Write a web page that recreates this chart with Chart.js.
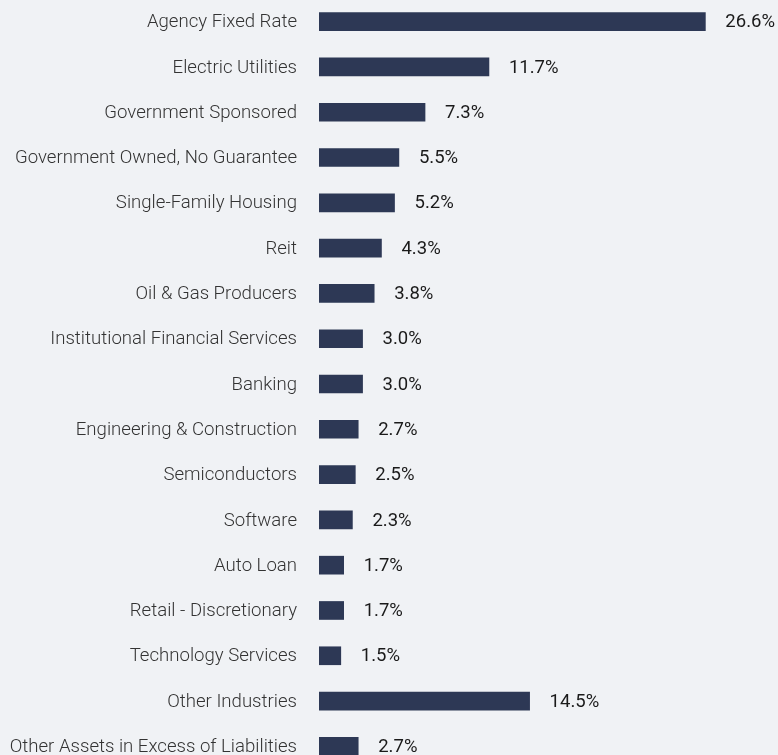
<!DOCTYPE html>
<html>
<head>
<meta charset="utf-8">
<script src="https://cdn.jsdelivr.net/npm/chart.js@4.4.0/dist/chart.umd.min.js"></script>
<style>
  html, body { margin: 0; padding: 0; background: #f0f2f5; overflow: hidden; width: 778px; height: 755px; }
  #wrap { position: relative; width: 778px; height: 770px; margin-top: -1px; }
</style>
</head>
<body>
<div id="wrap"><canvas id="c"></canvas></div>
<script>
const categories = [
  "Agency Fixed Rate",
  "Electric Utilities",
  "Government Sponsored",
  "Government Owned, No Guarantee",
  "Single-Family Housing",
  "Reit",
  "Oil & Gas Producers",
  "Institutional Financial Services",
  "Banking",
  "Engineering & Construction",
  "Semiconductors",
  "Software",
  "Auto Loan",
  "Retail - Discretionary",
  "Technology Services",
  "Other Industries",
  "Other Assets in Excess of Liabilities"
];
const values = [26.6, 11.7, 7.3, 5.5, 5.2, 4.3, 3.8, 3.0, 3.0, 2.7, 2.5, 2.3, 1.7, 1.7, 1.5, 14.5, 2.7];

const valueLabels = {
  id: 'valueLabels',
  afterDatasetsDraw(chart) {
    const ctx = chart.ctx;
    const meta = chart.getDatasetMeta(0);
    ctx.save();
    ctx.font = '400 18.5px Roboto';
    ctx.fillStyle = '#1a1a1a';
    ctx.textAlign = 'left';
    ctx.textBaseline = 'middle';
    meta.data.forEach((bar, i) => {
      ctx.fillText(values[i].toFixed(1) + '%', bar.x + 20, bar.y + 1);
    });
    ctx.restore();
  }
};

new Chart(document.getElementById('c'), {
  type: 'bar',
  data: {
    labels: categories,
    datasets: [{
      data: values,
      backgroundColor: '#2d3855',
      barThickness: 18,
      borderWidth: 0
    }]
  },
  options: {
    indexAxis: 'y',
    responsive: true,
    maintainAspectRatio: false,
    animation: false,
    layout: { padding: 0 },
    plugins: { legend: { display: false }, tooltip: { enabled: false } },
    scales: {
      x: {
        min: 0, max: 31.6,
        display: false,
        grid: { display: false }
      },
      y: {
        grid: { display: false, drawTicks: false },
        border: { display: false },
        ticks: {
          padding: 22,
          labelOffset: 1,
          color: '#333333',
          font: { family: 'Roboto', size: 18.6, weight: 300 }
        },
        afterFit(scale) {
          scale.width = 319;
          scale.paddingTop = 0;
          scale.paddingBottom = 0;
        }
      }
    }
  },
  plugins: [valueLabels]
});
</script>
</body>
</html>
